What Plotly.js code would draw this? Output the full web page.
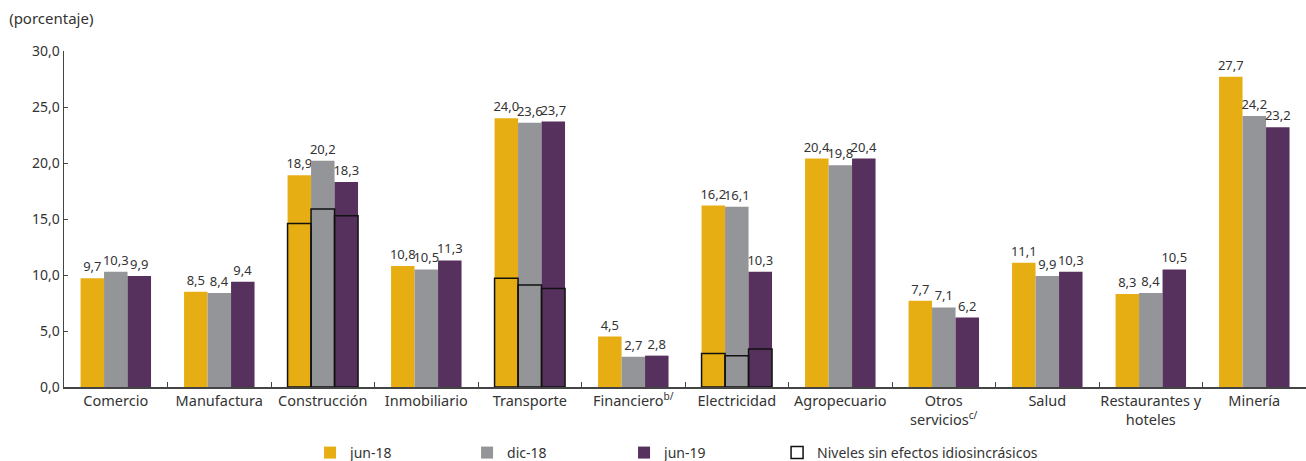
<!DOCTYPE html>
<html>
<head>
<meta charset="utf-8">
<script src="https://cdn.plot.ly/plotly-3.0.1.min.js"></script>
<style>html,body{margin:0;padding:0;background:#fff;}#chart{width:1306px;height:461px;}</style>
</head>
<body>
<div id="chart"></div>
<script>
const categories = ["Comercio","Manufactura","Construcción","Inmobiliario","Transporte","Financiero<sup>b/</sup>","Electricidad","Agropecuario","Otros<br>servicios<sup>c/</sup>","Salud","Restaurantes y<br>hoteles","Minería"];
const seriesNames = ["jun-18","dic-18","jun-19"];
const jun18 = [9.7, 8.5, 18.9, 10.8, 24.0, 4.5, 16.2, 20.4, 7.7, 11.1, 8.3, 27.7];
const dic18 = [10.3, 8.4, 20.2, 10.5, 23.6, 2.7, 16.1, 19.8, 7.1, 9.9, 8.4, 24.2];
const jun19 = [9.9, 9.4, 18.3, 11.3, 23.7, 2.8, 10.3, 20.4, 6.2, 10.3, 10.5, 23.2];
// Niveles sin efectos idiosincrásicos (solo Construcción, Transporte, Electricidad)
const nivJun18 = [null, null, 14.6, null, 9.7, null, 3.0, null, null, null, null, null];
const nivDic18 = [null, null, 15.9, null, 9.1, null, 2.8, null, null, null, null, null];
const nivJun19 = [null, null, 15.3, null, 8.8, null, 3.4, null, null, null, null, null];
const outlineName = "Niveles sin efectos idiosincrásicos";
const tickVals = [0, 5, 10, 15, 20, 25, 30];

const colors = ["#E7AE14", "#949598", "#57315E"];
const W = 0.227;
const offsets = [-0.34, -0.113, 0.114];
const FONT = "Noto Sans, sans-serif";

const filled = [jun18, dic18, jun19].map((vals, i) => ({
  type: "bar", name: seriesNames[i], x: categories, y: vals,
  width: W, offset: offsets[i],
  marker: {color: colors[i], line: {width: 0}},
  text: vals.map(v => v.toFixed(1).replace(".", ",")),
  textposition: "outside", constraintext: "none", cliponaxis: false,
  textfont: {family: FONT, size: 13, color: "#333"},
  hoverinfo: "x+y", legend: "legend"
}));
const outlines = [nivJun18, nivDic18, nivJun19].map((vals, i) => ({
  type: "bar", name: outlineName, x: categories, y: vals,
  width: W, offset: offsets[i],
  marker: {color: "rgba(255,255,255,0)", line: {color: "#111", width: 1.5}},
  showlegend: i === 0, legend: "legend2", hoverinfo: "skip"
}));

const layout = {
  width: 1306, height: 461,
  margin: {l: 64, r: 0, t: 51, b: 74, autoexpand: false},
  paper_bgcolor: "#fff", plot_bgcolor: "#fff",
  barmode: "overlay",
  separators: ",.",
  font: {family: FONT, size: 14, color: "#333"},
  title: {text: "(porcentaje)", x: 0.007, xanchor: "left", y: 0.96, yanchor: "middle", font: {family: FONT, size: 15, color: "#333"}},
  xaxis: {type: "category", range: [-0.5, 11.5], showline: true, linecolor: "#444", linewidth: 1.5,
    ticks: "inside", tickson: "boundaries", ticklen: 5, tickcolor: "#444", tickangle: 0, automargin: false,
    tickfont: {family: FONT, size: 14.5, color: "#333"}, showgrid: false, zeroline: false, fixedrange: true},
  yaxis: {range: [0, 30], tickvals: tickVals, tickformat: ".1f", showline: true, linecolor: "#444", linewidth: 1.5,
    ticks: "inside", ticklen: 4, tickcolor: "#444", showgrid: false, zeroline: false, automargin: false,
    tickfont: {family: FONT, size: 14, color: "#333"}},
  legend: {orientation: "h", xref: "container", yref: "container", x: 0.2374, xanchor: "left", y: 0.0174, yanchor: "middle",
    entrywidth: 112, bgcolor: "rgba(0,0,0,0)", font: {family: FONT, size: 14, color: "#333"}, traceorder: "normal"},
  legend2: {orientation: "h", xref: "container", yref: "container", x: 0.595, xanchor: "left", y: 0.0174, yanchor: "middle",
    bgcolor: "rgba(0,0,0,0)", font: {family: FONT, size: 14, color: "#333"}},
  showlegend: true
};

Plotly.newPlot("chart", [...filled, ...outlines], layout, {displayModeBar: false, staticPlot: true});
</script>
</body>
</html>
